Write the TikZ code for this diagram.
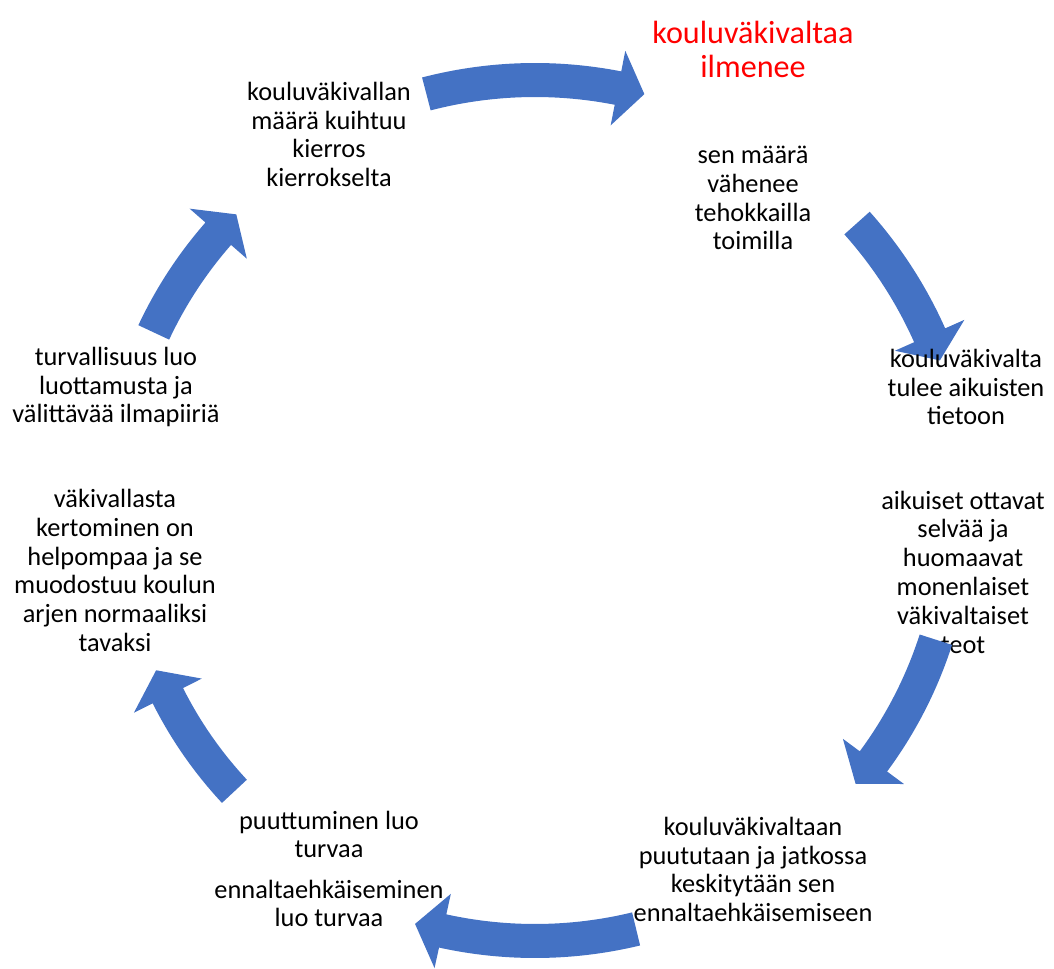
\documentclass[tikz,border=0pt]{standalone}
\usepackage{fontspec}
\setmainfont{Carlito}
\usepackage{xcolor}
\usepackage{tikz}
\usetikzlibrary{calc, positioning}
\definecolor{cycleblue}{RGB}{68,114,196}
\tikzset{
    cyclearrow/.style={fill=cycleblue, draw=none},
    steptext/.style={align=center, inner sep=0pt, font=\fontsize{15}{16.4}\selectfont},
    starttext/.style={align=center, inner sep=0pt, text=red, font=\fontsize{18.3}{19.3}\selectfont}
}
% thick curved arrow on the cycle: tail angle, head back angle, tip angle, radius
\newcommand{\cycleArrow}[4]{%
    \pgfmathsetmacro{\arrRo}{#4+17}
    \pgfmathsetmacro{\arrRi}{#4-17}
    \pgfmathsetmacro{\arrHo}{#4+38}
    \pgfmathsetmacro{\arrHi}{#4-38}
    \fill[cyclearrow] (#1:\arrRo) arc[start angle=#1, end angle=#2, radius=\arrRo]
        -- (#2:\arrHo) -- (#3:#4) -- (#2:\arrHi) -- (#2:\arrRi)
        arc[start angle=#2, end angle=#1, radius=\arrRi] -- cycle;
}

\begin{document}
\begin{tikzpicture}[x=0.02cm, y=0.02cm]
    \useasboundingbox (0,0) rectangle (1054,968);

    % text under the arrow
    \node[steptext] (teot) at (963,396) {aikuiset ottavat\\selvää ja\\huomaavat\\monenlaiset\\väkivaltaiset\\teot};

    % Arrows
    \begin{scope}[shift={(535,457)}]
        \cycleArrow{104.6}{78.9}{75.3}{431}
        \cycleArrow{41.8}{24}{20.4}{432}
        \cycleArrow{-17.8}{-36.5}{-40.4}{421}
        \cycleArrow{-76.4}{-102.4}{-106.2}{430}
        \cycleArrow{-137}{-153.3}{-157.2}{411}
        \cycleArrow{154.9}{138.8}{135.2}{421}
    \end{scope}

    % Steps
    \node[starttext] (ilmenee) at (753,919) {kouluväkivaltaa\\ilmenee};
    \node[steptext] (vahenee) at (753,770) {sen määrä\\vähenee\\tehokkailla\\toimilla};
    \node[steptext] (tietoon) at (966,581) {kouluväkivalta\\tulee aikuisten\\tietoon};
    \node[steptext] (puututaan) at (753,98.5) {kouluväkivaltaan\\puututaan ja jatkossa\\keskitytään sen\\ennaltaehkäisemiseen};
    \node[steptext] (turvaa) at (329,133.5) {puuttuminen luo\\turvaa};
    \node[steptext] (ennalta) at (329,64.5) {ennaltaehkäiseminen\\luo turvaa};
    \node[steptext] (kertominen) at (115,397.5) {väkivallasta\\kertominen on\\helpompaa ja se\\muodostuu koulun\\arjen normaaliksi\\tavaksi};
    \node[steptext] (turvallisuus) at (116,581) {turvallisuus luo\\luottamusta ja\\välittävää ilmapiiriä};
    \node[steptext] (kuihtuu) at (329,833.5) {kouluväkivallan\\määrä kuihtuu\\kierros\\kierrokselta};
\end{tikzpicture}
\end{document}
